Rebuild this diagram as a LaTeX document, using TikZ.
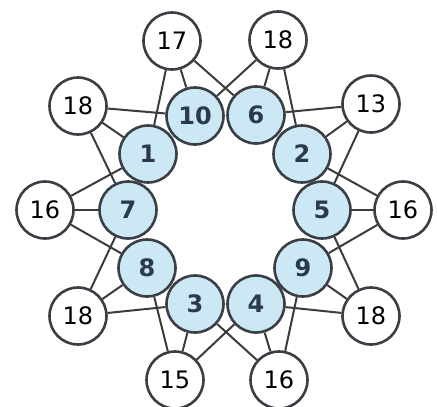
\documentclass[tikz,border=0pt]{standalone}
\usepackage{fontspec}
\setmainfont{DejaVu Sans}
\definecolor{ringfill}{HTML}{CDE8F5}
\definecolor{ringline}{HTML}{3A3F45}
\definecolor{innertext}{HTML}{2B3A4E}
\definecolor{edgecol}{HTML}{3C3C3C}
\begin{document}
\begin{tikzpicture}[x=1pt,y=-1pt,
  base/.style={circle,draw=ringline,line width=2.6pt,minimum size=57pt,inner sep=0pt,font=\fontsize{24}{24}\selectfont},
  inner/.style={base,fill=ringfill,text=innertext,font=\fontsize{24}{24}\selectfont\bfseries},
  outer/.style={base,fill=white,text=black},
  link/.style={draw=edgecol,line width=2pt}]
\useasboundingbox (0,0) rectangle (437,407);
% inner ring
\node[inner] (n10) at (195,116) {10};
\node[inner] (n6)  at (256,115) {6};
\node[inner] (n1)  at (148,154) {1};
\node[inner] (n2)  at (302,154) {2};
\node[inner] (n7)  at (128,210) {7};
\node[inner] (n5)  at (322,210) {5};
\node[inner] (n8)  at (147,268) {8};
\node[inner] (n9)  at (303,268) {9};
\node[inner] (n3)  at (195,304) {3};
\node[inner] (n4)  at (256,304) {4};
% outer ring
\node[outer] (o17)  at (172,41)  {17};
\node[outer] (o18t) at (278,40)  {18};
\node[outer] (o18a) at (78,106)  {18};
\node[outer] (o13)  at (371,104) {13};
\node[outer] (o16l) at (45,210)  {16};
\node[outer] (o16r) at (403,210) {16};
\node[outer] (o18b) at (78,316)  {18};
\node[outer] (o18c) at (371,316) {18};
\node[outer] (o15)  at (175,380) {15};
\node[outer] (o16b) at (279,380) {16};
% connectors
\foreach \o/\a/\b/\c in {o17/n1/n10/n6, o18t/n10/n6/n2, o18a/n7/n1/n10, o13/n6/n2/n5,
  o16l/n8/n7/n1, o16r/n2/n5/n9, o18b/n3/n8/n7, o18c/n5/n9/n4, o15/n4/n3/n8, o16b/n9/n4/n3}{
  \draw[link] (\o) -- (\a);
  \draw[link] (\o) -- (\b);
  \draw[link] (\o) -- (\c);
}
\end{tikzpicture}
\end{document}
